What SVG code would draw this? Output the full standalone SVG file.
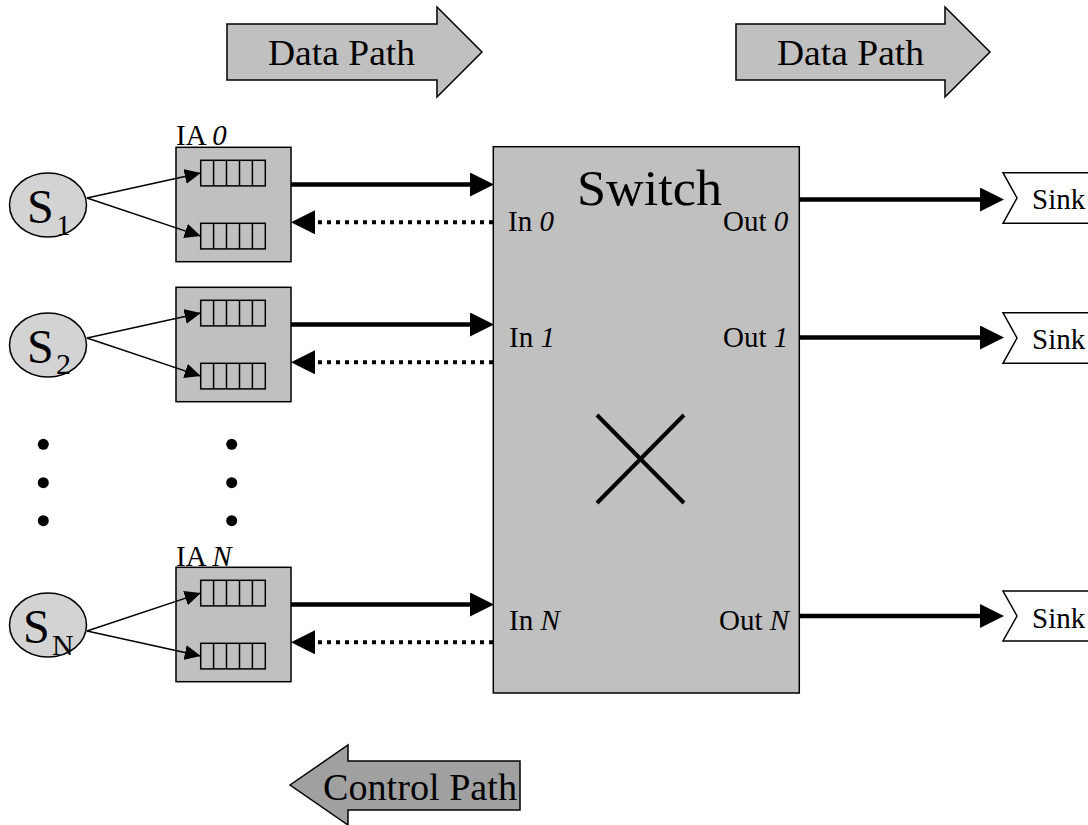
<svg xmlns="http://www.w3.org/2000/svg" width="1088" height="825" viewBox="0 0 1088 825">
  <style>
    text { font-family: "Liberation Serif", "Times New Roman", serif; fill: #000; }
    .lbl { font-size: 29px; }
    .big { font-size: 36px; }
    .src { font-size: 48px; }
    .sub { font-size: 30px; }
    .box { fill: #c0c0c0; stroke: #000; stroke-width: 1.5; }
    .q { fill: #c0c0c0; stroke: #000; stroke-width: 1.5; }
    .src-shape { fill: #d3d3d3; stroke: #000; stroke-width: 1.5; }
    .sink { fill: #fff; stroke: #000; stroke-width: 1.5; }
    .thin { stroke: #000; stroke-width: 1.5; fill: none; }
    .data { stroke: #000; stroke-width: 4.5; fill: none; }
    .ctrl { stroke: #000; stroke-width: 4; fill: none; stroke-dasharray: 4 5; }
    .dot { fill: #000; }
  </style>
  <defs>
    <marker id="headThick" markerUnits="userSpaceOnUse" markerWidth="24" markerHeight="24" viewBox="0 0 23 23" refX="0" refY="11.5" orient="auto">
      <path d="M0,0 L23,11.5 L0,23 z" fill="#000"/>
    </marker>
    <marker id="headThin" markerUnits="userSpaceOnUse" markerWidth="16" markerHeight="16" viewBox="0 0 15 14" refX="15" refY="7" orient="auto">
      <path d="M0,0 L15,7 L0,14 z" fill="#000"/>
    </marker>
    <g id="queue">
      <rect class="q" x="0" y="0" width="64.6" height="25.6"/>
      <path class="thin" d="M12.9,0 V25.6 M25.8,0 V25.6 M38.8,0 V25.6 M51.7,0 V25.6"/>
    </g>
  </defs>

  <!-- direction banners -->
  <g id="data-path-left">
    <polygon class="box" points="227,24 437,24 437,7 482,52 437,97 437,80 227,80"/>
    <text class="big" x="268" y="65" textLength="147" lengthAdjust="spacingAndGlyphs">Data Path</text>
  </g>
  <g id="data-path-right">
    <polygon class="box" points="736,24 945,24 945,7 990,52 945,97 945,80 736,80"/>
    <text class="big" x="777" y="65" textLength="147" lengthAdjust="spacingAndGlyphs">Data Path</text>
  </g>
  <g id="control-path">
    <polygon points="290,785 348,745 348,761 520,761 520,810 348,810 348,825" fill="#a0a0a0" stroke="#000" stroke-width="1.5"/>
    <text x="323" y="800" style="font-size:38px" textLength="194" lengthAdjust="spacingAndGlyphs">Control Path</text>
  </g>

  <!-- traffic sources -->
  <g id="src-1">
    <ellipse class="src-shape" cx="48" cy="205" rx="38.5" ry="32"/>
    <text class="src" x="27" y="223">S</text>
    <text class="sub" x="56" y="235">1</text>
  </g>
  <g id="src-2">
    <ellipse class="src-shape" cx="48" cy="345" rx="38.5" ry="32"/>
    <text class="src" x="27" y="363">S</text>
    <text class="sub" x="56" y="374">2</text>
  </g>
  <g id="src-n">
    <ellipse class="src-shape" cx="48" cy="625" rx="38.5" ry="32"/>
    <text class="src" x="23" y="643">S</text>
    <text class="sub" x="52" y="655">N</text>
  </g>

  <!-- input adapters -->
  <g id="ia-0">
    <text class="lbl" x="176" y="145">IA <tspan font-style="italic">0</tspan></text>
    <rect class="box" x="176" y="147.3" width="115" height="114.4"/>
    <use href="#queue" x="200.7" y="160.3"/>
    <use href="#queue" x="200.7" y="223.3"/>
  </g>
  <g id="ia-1">
    <rect class="box" x="176" y="287.3" width="115" height="114.4"/>
    <use href="#queue" x="200.7" y="300.3"/>
    <use href="#queue" x="200.7" y="363.3"/>
  </g>
  <g id="ia-n">
    <text class="lbl" x="176" y="566">IA <tspan font-style="italic">N</tspan></text>
    <rect class="box" x="176" y="567.3" width="115" height="114.4"/>
    <use href="#queue" x="200.7" y="580.3"/>
    <use href="#queue" x="200.7" y="643.3"/>
  </g>

  <!-- ellipsis dots -->
  <g id="more-ports">
    <circle class="dot" cx="43.3" cy="444.3" r="5.5"/>
    <circle class="dot" cx="43.3" cy="482.7" r="5.5"/>
    <circle class="dot" cx="43.3" cy="520.7" r="5.5"/>
    <circle class="dot" cx="231.7" cy="444.3" r="5.5"/>
    <circle class="dot" cx="231.7" cy="482.7" r="5.5"/>
    <circle class="dot" cx="231.7" cy="520.7" r="5.5"/>
  </g>

  <!-- switch fabric -->
  <g id="switch">
    <rect class="box" x="493.3" y="146.7" width="306" height="546.3"/>
    <text x="577" y="205" style="font-size:51px" textLength="145" lengthAdjust="spacingAndGlyphs">Switch</text>
    <text class="lbl" x="508" y="231">In <tspan font-style="italic">0</tspan></text>
    <text class="lbl" x="723" y="231">Out <tspan font-style="italic">0</tspan></text>
    <text class="lbl" x="509" y="347">In <tspan font-style="italic">1</tspan></text>
    <text class="lbl" x="723" y="347">Out <tspan font-style="italic">1</tspan></text>
    <text class="lbl" x="509" y="630">In <tspan font-style="italic">N</tspan></text>
    <text class="lbl" x="719" y="630">Out <tspan font-style="italic">N</tspan></text>
    <path d="M597,415 L684,503 M684,415 L597,503" stroke="#000" stroke-width="4" fill="none"/>
  </g>

  <!-- output sinks -->
  <g id="sink-0">
    <polygon class="sink" points="1003,172.7 1100,172.7 1100,223.3 1003,223.3 1017,198"/>
    <text class="lbl" x="1032" y="209">Sink</text>
  </g>
  <g id="sink-1">
    <polygon class="sink" points="1003,312.7 1100,312.7 1100,363.3 1003,363.3 1017,338"/>
    <text class="lbl" x="1032" y="349">Sink</text>
  </g>
  <g id="sink-n">
    <polygon class="sink" points="1003,591 1100,591 1100,641 1003,641 1017,616"/>
    <text class="lbl" x="1032" y="628">Sink</text>
  </g>

  <!-- connectors -->
  <g id="connectors">
    <!-- sources to queues -->
    <line class="thin" x1="87" y1="198" x2="200.7" y2="173.1" marker-end="url(#headThin)"/>
    <line class="thin" x1="87" y1="198" x2="200.7" y2="236.1" marker-end="url(#headThin)"/>
    <line class="thin" x1="87" y1="338" x2="200.7" y2="313.1" marker-end="url(#headThin)"/>
    <line class="thin" x1="87" y1="338" x2="200.7" y2="376.1" marker-end="url(#headThin)"/>
    <line class="thin" x1="87" y1="631" x2="200.7" y2="593.1" marker-end="url(#headThin)"/>
    <line class="thin" x1="87" y1="631" x2="200.7" y2="656.1" marker-end="url(#headThin)"/>

    <!-- data from adapters into switch -->
    <line class="data" x1="291" y1="184.5" x2="470" y2="184.5" marker-end="url(#headThick)"/>
    <line class="data" x1="291" y1="324.5" x2="470" y2="324.5" marker-end="url(#headThick)"/>
    <line class="data" x1="291" y1="604.5" x2="470" y2="604.5" marker-end="url(#headThick)"/>

    <!-- control back to adapters -->
    <line class="ctrl" x1="493" y1="222.3" x2="315" y2="222.3" marker-end="url(#headThick)"/>
    <line class="ctrl" x1="493" y1="362.3" x2="315" y2="362.3" marker-end="url(#headThick)"/>
    <line class="ctrl" x1="493" y1="642.3" x2="315" y2="642.3" marker-end="url(#headThick)"/>

    <!-- switch outputs to sinks -->
    <line class="data" x1="799" y1="199.5" x2="980" y2="199.5" marker-end="url(#headThick)"/>
    <line class="data" x1="799" y1="337.5" x2="980" y2="337.5" marker-end="url(#headThick)"/>
    <line class="data" x1="799" y1="616" x2="980" y2="616" marker-end="url(#headThick)"/>
  </g>
</svg>
